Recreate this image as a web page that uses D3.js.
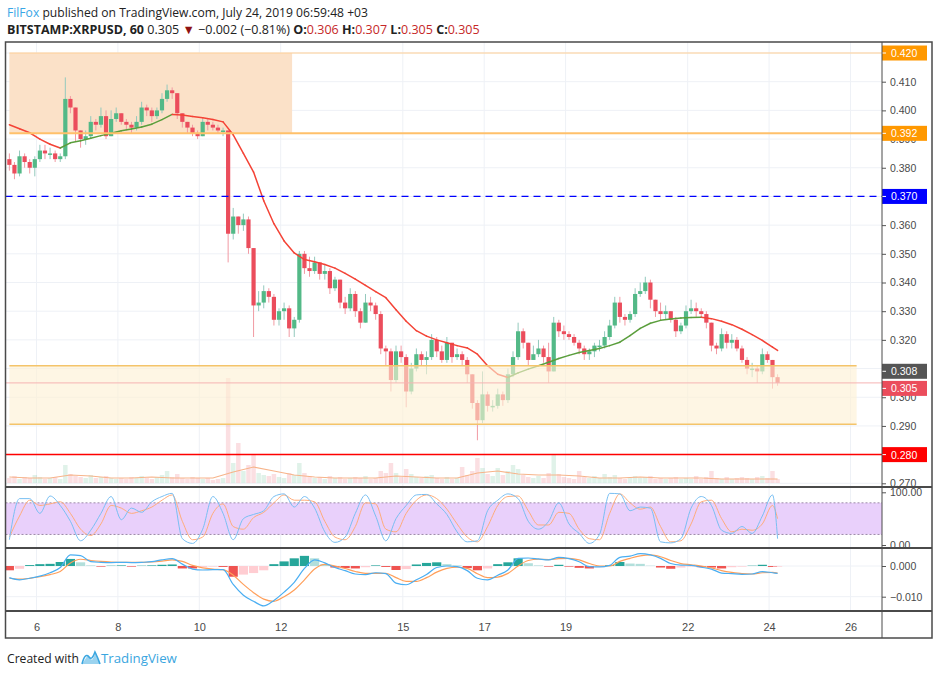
<!DOCTYPE html>
<html><head><meta charset="utf-8">
<script src="https://cdn.jsdelivr.net/npm/d3@7/dist/d3.min.js"></script>
<style>body{margin:0;background:#fff;}svg{display:block;}</style>
</head><body><svg id="c" width="939" height="675"></svg>
<script>
// ===== DATA =====
const candleStart = 5.3333;   // July 5, 08:00 (day number)
const candleStep = 0.125;     // 3-hour candles
const firstOpen = 0.383;
const closes = [.381,.378,.384,.382,.380,.383,.386,.385,.385,.383,.384,.404,.401,.393,.390,.391,.396,.395,.398,.391,
.397,.399,.396,.395,.394,.396,.401,.400,.398,.400,.404,.407,.406,.399,.396,.394,.392,.391,.396,.395,
.394,.393,.393,.357,.363,.360,.362,.352,.332,.333,.337,.335,.327,.330,.331,.324,.327,.350,.345,.344,
.347,.343,.344,.338,.341,.333,.331,.336,.330,.326,.333,.332,.329,.317,.316,.306,.316,.314,.302,.310,
.315,.313,.314,.320,.316,.313,.319,.314,.315,.313,.308,.298,.292,.301,.297,.297,.301,.299,.308,.314,
.323,.319,.313,.315,.317,.314,.309,.326,.323,.322,.321,.319,.317,.315,.316,.318,.318,.321,.325,.333,
.328,.327,.329,.336,.337,.340,.334,.330,.329,.330,.327,.323,.325,.330,.331,.330,.329,.326,.318,.317,
.322,.319,.320,.317,.313,.310,.310,.309,.315,.313,.307,.305];
const highs = [.385,.382,.386,.385,.383,.384,.388,.388,.387,.386,.385,.4115,.405,.401,.393,.393,.398,.397,.401,.400,
.400,.401,.399,.397,.396,.398,.403,.402,.401,.401,.406,.409,.408,.406,.399,.396,.395,.393,.397,.397,
.396,.395,.394,.393,.366,.363,.364,.363,.352,.337,.339,.338,.336,.331,.333,.332,.328,.351,.351,.349,
.349,.347,.346,.345,.342,.341,.335,.338,.337,.331,.336,.335,.333,.330,.318,.317,.318,.318,.315,.312,
.317,.316,.316,.322,.321,.318,.321,.319,.317,.316,.314,.308,.299,.309,.302,.299,.303,.302,.310,.316,
.326,.324,.319,.318,.320,.318,.319,.328,.327,.325,.323,.322,.320,.318,.317,.319,.320,.323,.327,.335,
.335,.329,.330,.338,.340,.342,.341,.334,.333,.332,.330,.328,.326,.332,.334,.333,.331,.330,.326,.319,
.324,.323,.322,.321,.318,.314,.312,.311,.317,.316,.313,.308];
const lows = [.379,.376,.377,.380,.378,.377,.382,.383,.383,.382,.382,.383,.399,.389,.387,.388,.390,.393,.394,.390,
.391,.396,.395,.393,.392,.393,.395,.398,.396,.397,.399,.403,.404,.397,.394,.392,.391,.390,.391,.393,
.393,.392,.391,.347,.355,.357,.358,.350,.321,.330,.331,.333,.325,.325,.327,.321,.321,.326,.343,.342,
.343,.341,.341,.336,.337,.331,.329,.330,.328,.324,.326,.330,.327,.315,.311,.302,.305,.312,.2965,.301,
.309,.311,.308,.313,.314,.312,.312,.312,.313,.311,.305,.296,.285,.291,.295,.295,.296,.297,.298,.307,
.313,.317,.311,.313,.314,.312,.305,.309,.321,.320,.320,.318,.315,.313,.313,.314,.316,.317,.320,.324,
.326,.325,.326,.328,.335,.336,.331,.328,.327,.327,.326,.321,.322,.324,.329,.328,.328,.324,.316,.315,
.316,.317,.317,.316,.312,.308,.307,.305,.308,.312,.303,.304];
const volumes = [5,7,4,6,5,8,6,4,5,6,4,18,9,7,6,5,8,5,6,7,
5,4,5,4,6,5,7,5,4,6,8,12,6,9,5,4,6,5,4,5,
3,4,5,105,20,40,12,18,28,10,8,7,9,6,5,10,8,20,10,7,
5,6,4,7,5,6,4,5,6,5,7,4,5,12,10,20,10,6,14,9,
6,5,7,8,5,4,6,4,5,16,8,12,25,15,9,7,15,8,12,18,
14,8,6,5,7,5,10,28,9,6,5,4,12,6,5,7,5,9,6,8,
5,4,5,7,5,6,7,4,5,4,5,6,4,5,4,7,4,6,12,5,
4,6,4,5,6,5,4,6,7,5,12,4];
// indicator lines sampled every 2 candles (6 h) + last candle
const maValues = [.3950,.3936,.3922,.3900,.3882,.3869,.3887,.3894,.3903,.3912,.3920,.3929,.3935,.3942,.3952,.3968,.3986,.3984,.3979,.3974,
.3968,.3960,.3915,.3850,.3785,.3685,.3605,.3545,.3503,.3480,.3472,.3463,.3450,.3432,.3412,.3390,.3368,.3347,.3305,.3265,
.3232,.3213,.3200,.3190,.3180,.3172,.3150,.3110,.3080,.3069,.3085,.3098,.3110,.3122,.3135,.3146,.3156,.3163,.3170,.3180,
.3192,.3215,.3240,.3258,.3268,.3273,.3276,.3278,.3279,.3274,.3265,.3253,.3237,.3218,.3198,.3175,.3163];
const stochK = [10,88,88,60,93,75,45,8,28,60,92,48,70,62,82,92,98,12,3,30,
92,60,10,50,58,65,92,97,72,92,70,25,5,15,60,95,55,8,50,75,
95,96,78,58,25,6,8,65,85,97,88,45,30,45,80,40,22,3,20,98,
97,65,72,70,6,4,12,70,92,75,28,22,35,22,55,95,12];
const stochD = [15,55,85,75,78,82,60,30,18,40,75,70,60,65,72,85,95,45,10,15,
60,78,35,30,52,62,80,95,85,85,82,45,15,10,35,80,78,30,25,60,
85,95,88,68,40,15,6,35,75,92,93,65,38,38,62,60,30,12,10,60,
97,80,68,72,35,6,8,40,82,85,50,25,30,28,40,75,50];
const macdLine = [-3.8,-4.5,-4.0,-3.3,-2.2,-0.5,3.6,3.4,1.4,1.2,1.1,1.2,1.1,1.2,1.4,2.0,2.4,0.6,-1.0,-1.3,
-1.2,-1.2,-6.0,-9.5,-11.5,-13.0,-11.2,-8.5,-5.3,-0.8,2.0,1.0,-0.5,-1.5,-2.6,-2.8,-2.2,-2.5,-5.6,-6.1,
-4.5,-2.8,-0.5,0.0,-0.2,-1.5,-4.0,-4.5,-3.0,-1.3,2.5,2.6,2.3,2.0,2.8,2.4,1.4,-0.2,-0.3,0.2,
2.8,3.2,4.0,3.6,2.5,0.8,0.3,0.2,-0.4,-1.0,-2.3,-2.5,-2.7,-2.6,-1.8,-2.2,-2.4];
const signalLine = [-4.0,-4.3,-4.0,-3.5,-2.8,-1.8,1.0,2.2,1.8,1.5,1.3,1.2,1.2,1.2,1.3,1.6,2.0,1.5,0.2,-0.6,
-1.0,-1.2,-3.0,-6.0,-8.7,-10.8,-11.5,-10.0,-7.8,-4.5,-1.0,0.5,0.0,-0.8,-1.8,-2.4,-2.4,-2.4,-3.8,-5.0,
-5.0,-3.8,-2.0,-0.8,-0.4,-0.8,-2.5,-3.8,-3.6,-2.4,0.0,1.8,2.2,2.1,2.4,2.5,2.0,0.8,0.0,0.0,
1.5,2.5,3.3,3.6,3.0,1.8,0.8,0.4,0.0,-0.6,-1.5,-2.1,-2.5,-2.6,-2.2,-2.1,-2.3];
const macdHist = [-1.4,-0.9,0.3,0.6,0.7,1.3,2.3,1.2,0.2,-0.2,0.1,0.2,-0.2,0.1,0.2,0.4,0.5,-0.8,-0.8,-0.4,
-0.2,-0.3,-3.5,-2.8,-2.3,-1.4,0.6,1.5,2.5,3.3,2.5,0.6,-0.5,-0.7,-0.8,-0.4,0.2,-0.3,-1.3,-1.0,
0.5,1.0,1.2,0.6,0.2,-0.7,-1.4,-0.8,0.6,1.2,2.5,0.9,0.2,-0.2,0.4,-0.2,-0.6,-0.8,-0.4,0.3,
1.3,0.8,0.7,0.1,-0.5,-0.9,-0.5,-0.2,-0.4,-0.5,-0.8,-0.4,-0.2,0.1,0.4,-0.3,-0.2];
// volume MA sampled every 4 candles + last
const volMaValues = [6,5,5,8,7,5,5,6,5,5,5,11,16,12,8,6,5,5,5,7,6,5,5,10,12,9,8,8,7,5,5,6,5,5,5,4,4,4,4];
const priceTicks = [0.27,0.28,0.29,0.30,0.31,0.32,0.33,0.34,0.35,0.36,0.37,0.38,0.39,0.40,0.41,0.42];
const dayTicks = [6,8,10,12,15,17,19,22,24,26];
const rsiTicks = [100,0];
const macdTicks = [0,-0.01];
const orangeZone = {start:5.3333, end:12.28, top:0.420, bottom:0.392};
const yellowZone = {start:5.3333, end:26.15, top:0.311, bottom:0.2906};
const blueLevel = 0.370, redLevel = 0.280, lastPrice = 0.305;
const axisLabels = [
  {v:0.420, text:"0.420", bg:"#ff9800", nudge:0},
  {v:0.392, text:"0.392", bg:"#ff9800", nudge:0},
  {v:0.370, text:"0.370", bg:"#0000ff", nudge:0},
  {v:0.308, text:"0.308", bg:"#555555", nudge:-3},
  {v:0.305, text:"0.305", bg:"#eb4d5c", nudge:5.5},
  {v:0.280, text:"0.280", bg:"#ff0000", nudge:0}
];

// ===== LAYOUT =====
const svg = d3.select("#c");
const L = 5.5, R = 882, RIGHT = 932;
const mainTop = 42, mainBot = 487, rsiTop = 487, rsiBot = 548, macdTop = 548, macdBot = 611, axBot = 638;
const x = d3.scaleLinear().domain([6,26]).range([36.5,850.5]);
const y = d3.scaleLinear().domain([0.41,0.27]).range([81.7,483.3]);
const yVol = d3.scaleLinear().domain([0,100]).range([483,383]);
const yRsi = d3.scaleLinear().domain([0,100]).range([545,492.3]);
const yMacd = d3.scaleLinear().domain([0,-0.01]).range([566,596.7]);
const tOf = i => candleStart + i*candleStep;
const lineIdx = k => Math.min(2*k, closes.length-1);
const volIdx = k => Math.min(4*k, closes.length-1);
const font = "'Liberation Sans', Arial, sans-serif";

const defs = svg.append("defs");
function clip(id, y0, y1){ defs.append("clipPath").attr("id",id).append("rect").attr("x",L).attr("y",y0).attr("width",R-L).attr("height",y1-y0); }
clip("cMain", mainTop, mainBot); clip("cRsi", rsiTop, rsiBot); clip("cMacd", macdTop, macdBot);
defs.append("clipPath").attr("id","cAxMain").append("rect").attr("x",R).attr("y",mainTop).attr("width",RIGHT-R).attr("height",mainBot-mainTop);
defs.append("clipPath").attr("id","cAxRsi").append("rect").attr("x",R).attr("y",rsiTop+1).attr("width",RIGHT-R).attr("height",rsiBot-rsiTop-1);
defs.append("clipPath").attr("id","cAxMacd").append("rect").attr("x",R).attr("y",macdTop+1).attr("width",RIGHT-R).attr("height",macdBot-macdTop-1);

svg.append("rect").attr("width",939).attr("height",675).attr("fill","#fff");

// ===== HEADER =====
function fit(sel, target){ const w = sel.node().getComputedTextLength(); const fs = parseFloat(sel.attr("font-size")); sel.attr("font-size", fs*target/w); }
const h1 = svg.append("text").attr("x",7).attr("y",17).attr("font-family","'Open Sans', sans-serif").attr("font-size",13).attr("fill","#222");
h1.append("tspan").attr("fill","#3aa6e6").text("FilFox");
h1.append("tspan").text(" published on TradingView.com, July 24, 2019 06:59:48 +03");
fit(h1, 361);
const h2 = svg.append("text").attr("x",7).attr("y",34).attr("font-family","'Open Sans', sans-serif").attr("font-size",13).attr("fill","#222");
h2.append("tspan").attr("font-weight","bold").text("BITSTAMP:XRPUSD, 60");
h2.append("tspan").text(" 0.305 ");
h2.append("tspan").attr("fill","#8e1212").text("▼");
h2.append("tspan").text(" −0.002 (−0.81%) ");
[["O:","0.306"],["H:","0.307"],["L:","0.305"],["C:","0.305"]].forEach((p,i)=>{
  h2.append("tspan").attr("font-weight","bold").text((i?" ":"")+p[0]);
  h2.append("tspan").attr("fill","#c62828").text(p[1]);
});
fit(h2, 473);

// ===== GRID =====
const grid = svg.append("g");
grid.selectAll(".vg").data(dayTicks).join("line").attr("x1",d=>x(d)).attr("x2",d=>x(d))
  .attr("y1",mainTop).attr("y2",macdBot).attr("stroke","#eef1f6").attr("stroke-width",1);
grid.selectAll(".hg").data(priceTicks).join("line").attr("x1",L).attr("x2",R).attr("y1",d=>y(d)).attr("y2",d=>y(d))
  .attr("stroke","#eef1f6").attr("clip-path","url(#cMain)");
grid.selectAll(".mg").data(macdTicks).join("line").attr("x1",L).attr("x2",R).attr("y1",d=>yMacd(d)).attr("y2",d=>yMacd(d)).attr("stroke","#eef1f6");

// ===== MAIN PANEL =====
const main = svg.append("g").attr("clip-path","url(#cMain)");
main.append("rect").attr("x",x(orangeZone.start)).attr("width",x(orangeZone.end)-x(orangeZone.start))
  .attr("y",y(orangeZone.top)).attr("height",y(orangeZone.bottom)-y(orangeZone.top)).attr("fill","#fbe1c8");
const cw = (x(candleStep)-x(0));
main.selectAll(".vol").data(volumes).join("rect")
  .attr("x",(d,i)=>x(tOf(i))-cw/2+0.3).attr("width",cw-0.6)
  .attr("y",d=>yVol(d)).attr("height",d=>yVol(0)-yVol(d))
  .attr("fill",(d,i)=>{const o=i?closes[i-1]:firstOpen; return closes[i]>=o?"rgba(83,185,135,0.18)":"rgba(235,77,92,0.18)";});
main.append("path").datum(volMaValues).attr("fill","none").attr("stroke","#f7b48a").attr("stroke-width",1.2)
  .attr("d",d3.line().x((d,k)=>x(tOf(volIdx(k)))).y(d=>yVol(d)));
const cg = main.append("g");
closes.forEach((c,i)=>{
  const o = i?closes[i-1]:firstOpen, up = c>=o, xc = x(tOf(i));
  cg.append("line").attr("x1",xc).attr("x2",xc).attr("y1",y(highs[i])).attr("y2",y(lows[i]))
    .attr("stroke", up?"#93c9bd":"#f19aa3").attr("stroke-width",1);
  const yt = y(Math.max(o,c)), yb = y(Math.min(o,c));
  cg.append("rect").attr("x",xc-2.1).attr("width",4.2).attr("y",yt).attr("height",Math.max(1.5,yb-yt))
    .attr("fill", up?"#53b987":"#eb4d5c");
});
const maPts = maValues.map((v,k)=>[x(tOf(lineIdx(k))), y(v)]);
for(let k=0;k<maPts.length-1;k++){
  main.append("line").attr("x1",maPts[k][0]).attr("y1",maPts[k][1]).attr("x2",maPts[k+1][0]).attr("y2",maPts[k+1][1])
    .attr("stroke", maValues[k+1]>=maValues[k]?"#5a9e3c":"#f44336").attr("stroke-width",1.5).attr("stroke-linecap","round");
}
main.append("rect").attr("x",x(yellowZone.start)).attr("width",x(yellowZone.end)-x(yellowZone.start))
  .attr("y",y(yellowZone.top)).attr("height",y(yellowZone.bottom)-y(yellowZone.top)).attr("fill","rgba(253,240,212,0.62)");
[yellowZone.top,yellowZone.bottom].forEach(v=>{
  main.append("line").attr("x1",x(yellowZone.start)).attr("x2",x(yellowZone.end)).attr("y1",y(v)).attr("y2",y(v))
    .attr("stroke","#f4c46a").attr("stroke-width",1.5);
});
main.append("line").attr("x1",x(orangeZone.start)).attr("x2",R).attr("y1",y(orangeZone.top)).attr("y2",y(orangeZone.top)).attr("stroke","#ffcf94").attr("stroke-width",1);
main.append("line").attr("x1",x(orangeZone.start)).attr("x2",R).attr("y1",y(orangeZone.bottom)).attr("y2",y(orangeZone.bottom)).attr("stroke","#ffc06a").attr("stroke-width",2);
main.append("line").attr("x1",L).attr("x2",R).attr("y1",y(blueLevel)).attr("y2",y(blueLevel)).attr("stroke","#0000ff").attr("stroke-width",1.3).attr("stroke-dasharray","7,5");
main.append("line").attr("x1",L).attr("x2",R).attr("y1",y(lastPrice)).attr("y2",y(lastPrice)).attr("stroke","#f6b3b3").attr("stroke-width",1);
main.append("line").attr("x1",L).attr("x2",R).attr("y1",y(redLevel)).attr("y2",y(redLevel)).attr("stroke","#ff0000").attr("stroke-width",1.5);

// ===== STOCH RSI PANEL =====
const rsi = svg.append("g").attr("clip-path","url(#cRsi)");
rsi.append("rect").attr("x",L).attr("width",R-L).attr("y",yRsi(80)).attr("height",yRsi(20)-yRsi(80)).attr("fill","#e9d0fb");
[80,20].forEach(v=>rsi.append("line").attr("x1",L).attr("x2",R).attr("y1",yRsi(v)).attr("y2",yRsi(v))
  .attr("stroke","#9c8aa8").attr("stroke-dasharray","2,2").attr("stroke-width",1));
const stochLine = d3.line().x((d,k)=>x(tOf(lineIdx(k)))).y(d=>yRsi(d)).curve(d3.curveMonotoneX);
rsi.append("path").datum(stochD).attr("fill","none").attr("stroke","#ffac7a").attr("stroke-width",1).attr("d",stochLine);
rsi.append("path").datum(stochK).attr("fill","none").attr("stroke","#79bff2").attr("stroke-width",1).attr("d",stochLine);

// ===== MACD PANEL =====
const mp = svg.append("g").attr("clip-path","url(#cMacd)");
const hw = x(2*candleStep)-x(0);
mp.selectAll(".hist").data(macdHist).join("rect")
  .attr("x",(d,k)=>x(tOf(lineIdx(k)))-hw/2+0.5).attr("width",hw-1)
  .attr("y",d=>yMacd(Math.max(0,d/1000))).attr("height",d=>Math.abs(yMacd(d/1000)-yMacd(0)))
  .attr("fill",(d,k)=>{const p = k?macdHist[k-1]:d; if(d>=0) return d>=p?"#26a69a":"#b2dfdb"; return d<=p?"#ef5350":"#ffcdd2";});
const ml = d3.line().x((d,k)=>x(tOf(lineIdx(k)))).y(d=>yMacd(d/1000)).curve(d3.curveMonotoneX);
mp.append("path").datum(signalLine).attr("fill","none").attr("stroke","#ff9f5a").attr("stroke-width",1.2).attr("d",ml);
mp.append("path").datum(macdLine).attr("fill","none").attr("stroke","#4aaef2").attr("stroke-width",1.2).attr("d",ml);

// ===== AXES =====
const axMain = svg.append("g").attr("clip-path","url(#cAxMain)");
const yAxis = d3.axisRight(y).tickValues(priceTicks).tickSize(4).tickPadding(4).tickFormat(d3.format(".3f"));
axMain.append("g").attr("transform",`translate(${R},0)`).call(yAxis)
  .call(g=>{g.select(".domain").remove(); g.selectAll("line").attr("stroke","#555");
    g.selectAll("text").attr("font-family",font).attr("font-size",10.5).attr("fill","#4a4a4a");});
axisLabels.forEach(l=>{
  const cy = y(l.v)+l.nudge;
  axMain.append("rect").attr("x",R).attr("y",cy-7.5).attr("width",45).attr("height",15).attr("fill",l.bg);
  axMain.append("text").attr("x",R+9).attr("y",cy+4).attr("font-family",font).attr("font-size",10.5).attr("fill","#fff").text(l.text);
  axMain.append("line").attr("x1",R).attr("x2",R+4).attr("y1",cy).attr("y2",cy).attr("stroke","#fff");
});
svg.append("g").attr("clip-path","url(#cAxRsi)").append("g").attr("transform",`translate(${R},0)`)
  .call(d3.axisRight(yRsi).tickValues(rsiTicks).tickSize(4).tickPadding(4).tickFormat(d3.format(".2f")))
  .call(g=>{g.select(".domain").remove(); g.selectAll("line").attr("stroke","#555");
    g.selectAll("text").attr("font-family",font).attr("font-size",10.5).attr("fill","#4a4a4a");});
svg.append("g").attr("clip-path","url(#cAxMacd)").append("g").attr("transform",`translate(${R},0)`)
  .call(d3.axisRight(yMacd).tickValues(macdTicks).tickSize(4).tickPadding(4).tickFormat(d=>d===0?"0.000":d3.format(".3f")(d).replace("-","−")))
  .call(g=>{g.select(".domain").remove(); g.selectAll("line").attr("stroke","#555");
    g.selectAll("text").attr("font-family",font).attr("font-size",10.5).attr("fill","#4a4a4a");});
svg.append("g").attr("transform",`translate(0,${macdBot})`)
  .call(d3.axisBottom(x).tickValues(dayTicks).tickSize(0).tickPadding(12).tickFormat(d3.format("d")))
  .call(g=>{g.select(".domain").remove();
    g.selectAll("text").attr("font-family",font).attr("font-size",11).attr("fill","#4a4a4a");});

// ===== FRAME =====
const fr = svg.append("g").attr("fill","none").attr("stroke","#4a4a4a");
fr.append("rect").attr("x",L).attr("y",mainTop).attr("width",RIGHT-L).attr("height",axBot-mainTop).attr("stroke-width",1.5);
[rsiTop, macdTop, macdBot].forEach(v=>fr.append("line").attr("x1",L).attr("x2",RIGHT).attr("y1",v).attr("y2",v).attr("stroke-width",2));
fr.append("line").attr("x1",R).attr("x2",R).attr("y1",mainTop).attr("y2",axBot).attr("stroke-width",1);

// ===== FOOTER =====
const ft = svg.append("text").attr("x",7).attr("y",663).attr("font-family","'Open Sans', sans-serif").attr("font-size",13).attr("fill","#222").text("Created with");
fit(ft, 72);
svg.append("path").attr("d","M82,664 L88,655 L92,660 L96,653 L100,664 Z").attr("fill","#9bd3ef");
svg.append("path").attr("d","M82,664 Q85,652 89,657 Q92,661 95,652 Q98,658 100,664").attr("fill","none").attr("stroke","#3aa6e0").attr("stroke-width",1.6);
const tv = svg.append("text").attr("x",101).attr("y",663).attr("font-family","'Open Sans', sans-serif").attr("font-size",13).attr("fill","#3aa6e0").text("TradingView");
fit(tv, 76);
</script></body></html>
